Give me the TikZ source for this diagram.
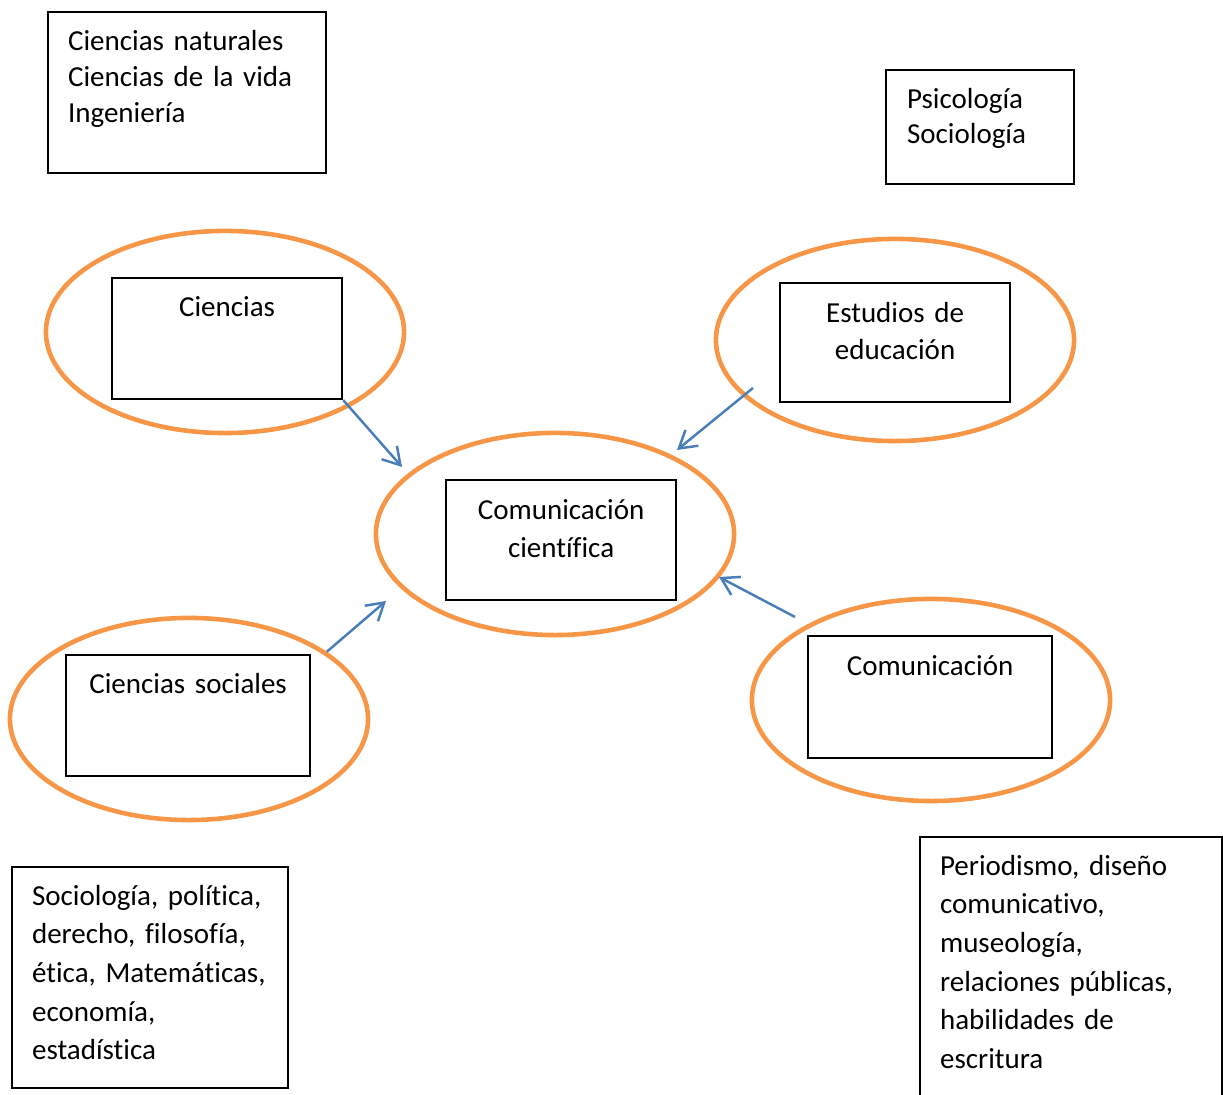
\documentclass[tikz,border=0pt]{standalone}
\usepackage{fontspec}
\setmainfont{Carlito}[Ligatures=NoCommon]
\usetikzlibrary{shapes.geometric,arrows.meta}

\definecolor{ovalorange}{HTML}{F79646}
\definecolor{linkblue}{HTML}{4A7EBB}

\tikzset{
  oval/.style={ellipse, draw=ovalorange, line width=1.3pt,
    minimum width=3.58cm, minimum height=2.02cm, inner sep=0pt},
  tbox/.style={rectangle, draw=black, line width=0.6pt, inner ysep=0pt,
    anchor=north west, font=\fontsize{8.25pt}{#1}\selectfont\frenchspacing},
  tbox/.default=10.9pt,
  link/.style={draw=linkblue, line width=0.7pt,
    -{Straight Barb[length=4.8pt,width=5.8pt]}}
}

\begin{document}
\begin{tikzpicture}[x=0.01cm, y=-0.01cm]
  \useasboundingbox (0,0) rectangle (1223,1095);

  % Ovals
  \node[oval] (cie) at (225,332) {};
  \node[oval] (edu) at (895,340) {};
  \node[oval] (com) at (555,534) {};
  \node[oval] (soc) at (189,719) {};
  \node[oval] (cmn) at (931,700) {};

  % Top boxes
  \node[tbox=10.24pt, inner xsep=0.2cm, text width=2.38cm, text height=0.38cm,
    text depth=1.23cm, align=left] (nat) at (47,11)
    {Ciencias naturales\\Ciencias de la vida\\Ingeniería};
  \node[tbox=9.96pt, inner xsep=0.21cm, text width=1.46cm, text height=0.38cm,
    text depth=0.76cm, align=left] (psi) at (885,69)
    {Psicología\\Sociología};

  % Boxes inside the ovals
  \node[tbox, inner xsep=0.1cm, text width=2.10cm, text height=0.38cm,
    text depth=0.83cm, align=center] (cieB) at (111,277) {Ciencias};
  \node[tbox=10.53pt, inner xsep=0.1cm, text width=2.10cm, text height=0.39cm,
    text depth=0.80cm, align=center] (eduB) at (779,282) {Estudios de\\educación};
  \node[tbox=10.95pt, inner xsep=0.1cm, text width=2.10cm, text height=0.39cm,
    text depth=0.81cm, align=center] (comB) at (445,479) {Comunicación\\científica};
  \node[tbox, inner xsep=0.1cm, text width=2.24cm, text height=0.38cm,
    text depth=0.83cm, align=center] (socB) at (65,654) {Ciencias sociales};
  \node[tbox, inner xsep=0.1cm, text width=2.24cm, text height=0.39cm,
    text depth=0.83cm, align=center] (cmnB) at (807,635) {Comunicación};

  % Bottom boxes
  \node[tbox=11.0pt, inner xsep=0.2cm, text width=2.36cm, text height=0.38cm,
    text depth=1.83cm, align=left] (socL) at (11,866)
    {Sociología,~política,\\derecho, filosofía,\\ética,~Matemáticas,\\economía,\\estadística};
  \node[tbox=11.0pt, inner xsep=0.2cm, text width=2.62cm, text height=0.38cm,
    text depth=2.36cm, align=left] (cmnL) at (919,836)
    {Periodismo, diseño\\comunicativo,\\museología,\\relaciones públicas,\\habilidades de\\escritura};

  % Arrows
  \coordinate (a1e) at (402,467);
  \coordinate (a2s) at (753,388);
  \coordinate (a2e) at (677,450);
  \coordinate (a3e) at (386,601);
  \coordinate (a4s) at (795,617);
  \coordinate (a4e) at (719,577);
  \draw[link] (cieB.south east) -- (a1e);
  \draw[link] (a2s) -- (a2e);
  \draw[link] (soc.26) -- (a3e);
  \draw[link] (a4s) -- (a4e);
\end{tikzpicture}
\end{document}
